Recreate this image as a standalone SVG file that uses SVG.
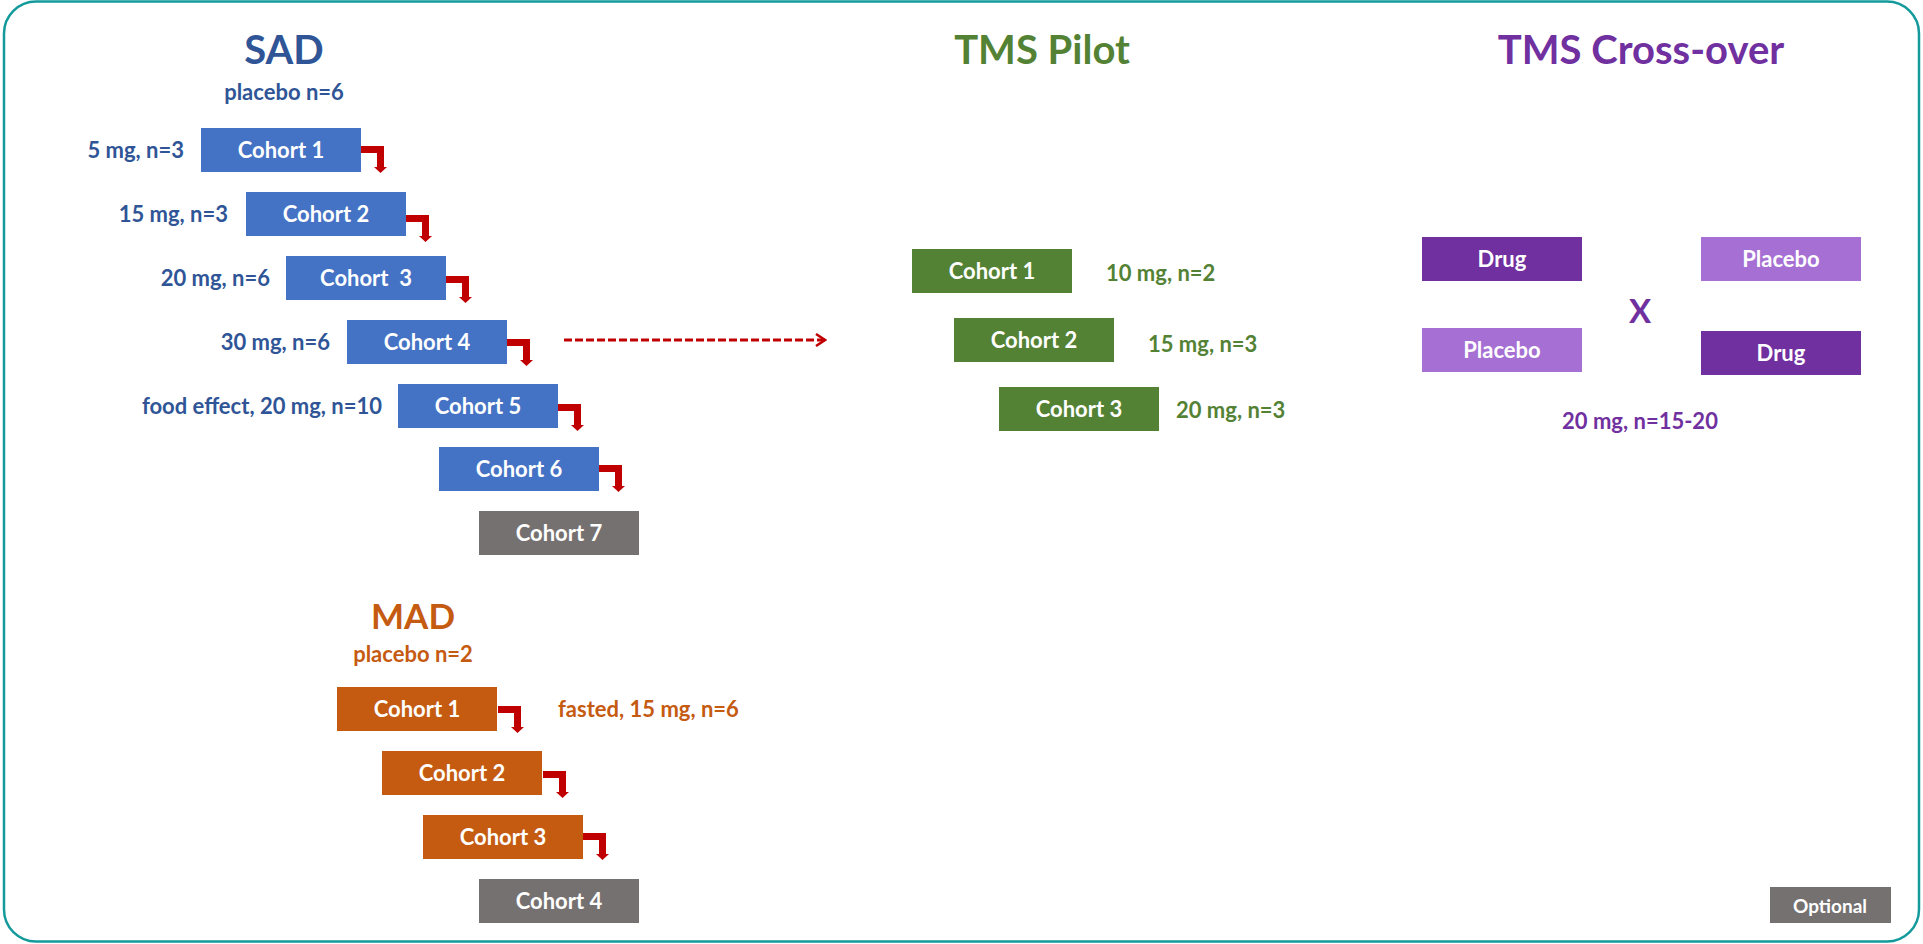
<svg xmlns="http://www.w3.org/2000/svg" width="1923" height="944" viewBox="0 0 1923 944">
<style>
text{font-family:Lato,"Liberation Sans",sans-serif;font-weight:bold}
.bx{font-size:22px;fill:#fff;text-anchor:middle}
.ttl{font-size:40px;text-anchor:middle}
.lbl{font-size:22px}
.end{text-anchor:end}
.mid{text-anchor:middle}
.blue{fill:#4472C4}.orange{fill:#C55A11}.gray{fill:#767171}.green{fill:#548235}.dpur{fill:#7030A0}.lpur{fill:#A66FD3}
.tblue{fill:#2F5597}.torange{fill:#C55A11}.tgreen{fill:#548235}.tpur{fill:#7030A0}
.bent{fill:#C00000}
.dash{stroke:#C00000;stroke-width:3;stroke-dasharray:8 3;fill:none}
</style>
<defs>
<path id="bent" d="M0,0 H23 V21 H26 L19.5,27 L13,21 H16 V7 H0 Z"/>
<marker id="chev" viewBox="0 0 12 14" refX="10" refY="7" markerWidth="12" markerHeight="14" markerUnits="userSpaceOnUse" orient="auto">
<path d="M1,1 L10,7 L1,13" fill="none" stroke="#C00000" stroke-width="2.5"/>
</marker>
</defs>
<rect id="frame" x="4" y="1.5" width="1915" height="940" rx="32" fill="#fff" stroke="#159A9C" stroke-width="2.5"/>

<g id="sad-title"><text class="ttl tblue" x="284" y="64">SAD</text><text class="lbl tblue mid" x="284" y="100">placebo n=6</text></g>
<g id="sad-c1"><rect class="blue" x="201" y="128" width="160" height="44"/><text class="bx" x="281" y="158">Cohort 1</text><text class="lbl tblue end" x="184" y="158">5 mg, n=3</text></g>
<g id="sad-c2"><rect class="blue" x="246" y="192" width="160" height="44"/><text class="bx" x="326" y="222">Cohort 2</text><text class="lbl tblue end" x="228" y="222">15 mg, n=3</text></g>
<g id="sad-c3"><rect class="blue" x="286" y="256" width="160" height="44"/><text class="bx" x="366" y="286" xml:space="preserve">Cohort  3</text><text class="lbl tblue end" x="270" y="286">20 mg, n=6</text></g>
<g id="sad-c4"><rect class="blue" x="347" y="320" width="160" height="44"/><text class="bx" x="427" y="350">Cohort 4</text><text class="lbl tblue end" x="330" y="350">30 mg, n=6</text></g>
<g id="sad-c5"><rect class="blue" x="398" y="384" width="160" height="44"/><text class="bx" x="478" y="414">Cohort 5</text><text class="lbl tblue end" x="382" y="414">food effect, 20 mg, n=10</text></g>
<g id="sad-c6"><rect class="blue" x="439" y="447" width="160" height="44"/><text class="bx" x="519" y="477">Cohort 6</text></g>
<g id="sad-c7"><rect class="gray" x="479" y="511" width="160" height="44"/><text class="bx" x="559" y="541">Cohort 7</text></g>

<g id="mad-title"><text class="ttl torange" x="413" y="629" style="font-size:35px">MAD</text><text class="lbl torange mid" x="413" y="662">placebo n=2</text></g>
<g id="mad-c1"><rect class="orange" x="337" y="687" width="160" height="44"/><text class="bx" x="417" y="717">Cohort 1</text><text class="lbl torange" x="558" y="717">fasted, 15 mg, n=6</text></g>
<g id="mad-c2"><rect class="orange" x="382" y="751" width="160" height="44"/><text class="bx" x="462" y="781">Cohort 2</text></g>
<g id="mad-c3"><rect class="orange" x="423" y="815" width="160" height="44"/><text class="bx" x="503" y="845">Cohort 3</text></g>
<g id="mad-c4"><rect class="gray" x="479" y="879" width="160" height="44"/><text class="bx" x="559" y="909">Cohort 4</text></g>

<g id="tms-title"><text class="ttl tgreen" x="1042" y="64">TMS Pilot</text></g>
<g id="tms-c1"><rect class="green" x="912" y="249" width="160" height="44"/><text class="bx" x="992" y="279">Cohort 1</text><text class="lbl tgreen" x="1106" y="281">10 mg, n=2</text></g>
<g id="tms-c2"><rect class="green" x="954" y="318" width="160" height="44"/><text class="bx" x="1034" y="348">Cohort 2</text><text class="lbl tgreen" x="1148" y="352">15 mg, n=3</text></g>
<g id="tms-c3"><rect class="green" x="999" y="387" width="160" height="44"/><text class="bx" x="1079" y="417">Cohort 3</text><text class="lbl tgreen" x="1176" y="418">20 mg, n=3</text></g>

<g id="cross-title"><text class="ttl tpur" x="1641" y="64">TMS Cross-over</text></g>
<g id="cross-drug1"><rect class="dpur" x="1422" y="237" width="160" height="44"/><text class="bx" x="1502" y="267">Drug</text></g>
<g id="cross-plac1"><rect class="lpur" x="1701" y="237" width="160" height="44"/><text class="bx" x="1781" y="267">Placebo</text></g>
<g id="cross-plac2"><rect class="lpur" x="1422" y="328" width="160" height="44"/><text class="bx" x="1502" y="358">Placebo</text></g>
<g id="cross-drug2"><rect class="dpur" x="1701" y="331" width="160" height="44"/><text class="bx" x="1781" y="361">Drug</text></g>
<g id="cross-x"><text class="tpur mid" x="1640" y="323" style="font-size:33px">X</text></g>
<g id="cross-dose"><text class="lbl tpur mid" x="1640" y="429">20 mg, n=15-20</text></g>

<g id="legend"><rect class="gray" x="1770" y="887" width="121" height="36"/><text class="bx" x="1830" y="913" style="font-size:19px">Optional</text></g>

<g id="connectors">
<use href="#bent" class="bent" x="361" y="146"/>
<use href="#bent" class="bent" x="406" y="215"/>
<use href="#bent" class="bent" x="446" y="276"/>
<use href="#bent" class="bent" x="507" y="339"/>
<use href="#bent" class="bent" x="558" y="404"/>
<use href="#bent" class="bent" x="599" y="465"/>
<use href="#bent" class="bent" x="498" y="706"/>
<use href="#bent" class="bent" x="543" y="771"/>
<use href="#bent" class="bent" x="583" y="833"/>
<line class="dash" x1="564" y1="340" x2="825" y2="340" marker-end="url(#chev)"/>
</g>
</svg>
